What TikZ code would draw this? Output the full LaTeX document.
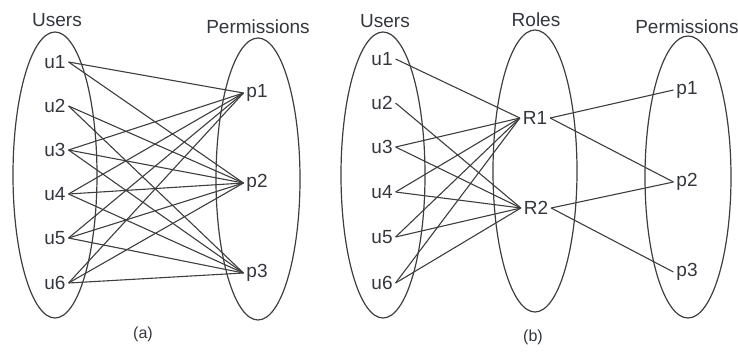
\documentclass[tikz,border=0pt]{standalone}
\usepackage{fontspec}
\setmainfont{Liberation Sans}
\definecolor{inkc}{HTML}{33363D}
\definecolor{linec}{HTML}{3E3E3E}
\tikzset{
  lbl/.style={inner sep=3bp, outer sep=0pt, text=inkc, font=\fontsize{19bp}{22bp}\selectfont},
  subcap/.style={inner sep=0pt, text=inkc, font=\fontsize{16bp}{19bp}\selectfont},
  grp/.style={draw=linec, line width=1.2bp},
  edge/.style={draw=linec, line width=1.1bp}
}

\begin{document}
\begin{tikzpicture}[x=1bp, y=-1bp]
  \useasboundingbox (0,0) rectangle (738,352);

  % (a) users and permissions
  \draw[grp] (55,175) ellipse [x radius=42, y radius=143];
  \draw[grp] (258,179) ellipse [x radius=42, y radius=141];
  \node[lbl] (atu) at (57,20) {Users};
  \node[lbl] (atp) at (258,27) {Permissions};
  \foreach \n/\y in {1/62, 2/106, 3/150, 4/194, 5/238, 6/283}{
    \node[lbl] (au\n) at (55,\y) {u\n};
  }
  \foreach \n/\y in {1/93, 2/183, 3/273}{
    \node[lbl] (ap\n) at (257,\y) {p\n};
  }
  \foreach \u/\p in {1/1, 1/2, 2/2, 2/3, 3/1, 3/2, 3/3, 4/1, 4/2, 4/3,
                     5/1, 5/2, 5/3, 6/1, 6/2, 6/3}{
    \draw[edge] (au\u.east) -- (ap\p.west);
  }
  \node[subcap] (capa) at (143,334) {(a)};

  % (b) users, roles and permissions
  \draw[grp] (383,175) ellipse [x radius=42, y radius=143];
  \draw[grp] (535,171) ellipse [x radius=42, y radius=141];
  \draw[grp] (688,177) ellipse [x radius=43, y radius=141];
  \node[lbl] (btu) at (385,21) {Users};
  \node[lbl] (btr) at (536,20) {Roles};
  \node[lbl] (btp) at (687,27) {Permissions};
  \foreach \n/\y in {1/59, 2/103, 3/147, 4/192, 5/237, 6/283}{
    \node[lbl] (bu\n) at (382,\y) {u\n};
  }
  \node[lbl] (r1) at (535,118) {R1};
  \node[lbl] (r2) at (536,208) {R2};
  \foreach \n/\y in {1/90, 2/182, 3/272}{
    \node[lbl] (bp\n) at (687,\y) {p\n};
  }
  \foreach \u/\r in {1/1, 2/2, 3/1, 3/2, 4/1, 4/2, 5/1, 5/2, 6/1, 6/2}{
    \draw[edge] (bu\u.east) -- (r\r.west);
  }
  \foreach \r/\p in {1/1, 1/2, 2/2, 2/3}{
    \draw[edge] (r\r.east) -- (bp\p.west);
  }
  \node[subcap] (capb) at (533,337) {(b)};
\end{tikzpicture}
\end{document}
